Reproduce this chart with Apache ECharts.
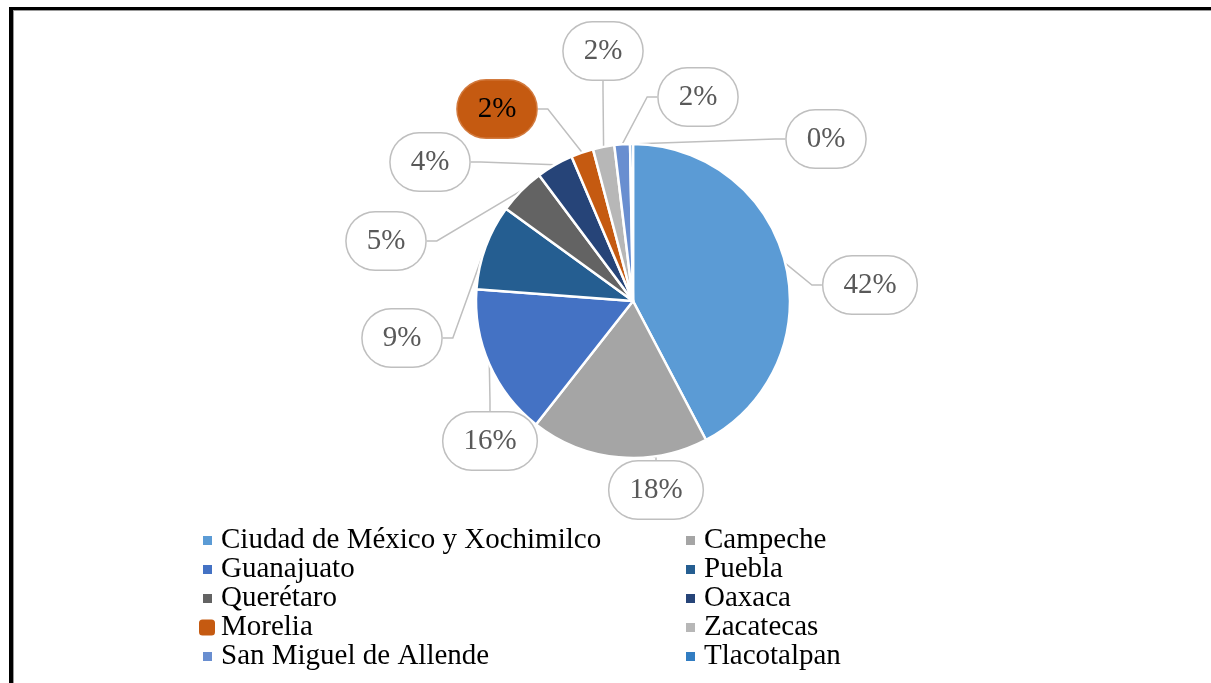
<!DOCTYPE html>
<html>
<head>
<meta charset="utf-8">
<script src="https://cdn.jsdelivr.net/npm/echarts@6/dist/echarts.min.js"></script>
<style>
  html, body { margin: 0; padding: 0; background: #fff; }
  #frame {
    position: absolute; left: 9px; top: 7px; width: 1300px; height: 800px;
    border-left: 4px solid #000; border-top: 3px solid #000;
    box-shadow: inset 1px 1px 0 #999;
  }
  #main { position: absolute; left: 0; top: 0; width: 1211px; height: 683px; }
</style>
</head>
<body>
<div id="frame"></div>
<div id="main"></div>
<script>
// sitios (orden de la gráfica, en sentido horario desde arriba)
var categories = ['Ciudad de México y Xochimilco', 'Campeche', 'Guanajuato', 'Puebla',
  'Querétaro', 'Oaxaca', 'Morelia', 'Zacatecas', 'San Miguel de Allende', 'Tlacotalpan'];
// porcentajes
var values = [42.3, 18.3, 15.6, 8.8, 4.8, 3.8, 2.3, 2.2, 1.6, 0.3];
var colors = ['#5B9BD5', '#A5A5A5', '#4472C4', '#255E91', '#636363',
  '#264478', '#C55A11', '#B7B7B7', '#698ED0', '#327DC2'];

// dónde va cada globo de etiqueta
var labelPos = [[870, 285], [656, 490], [490, 441], [402, 338], [386, 241],
  [430, 162], [497, 109], [603, 51], [698, 97], [826, 139]];

var serif = '"Liberation Serif", "Times New Roman", serif';

var myChart = echarts.init(document.getElementById('main'));

var data = categories.map(function (name, i) {
  var item = { name: name, value: values[i], itemStyle: { color: colors[i] } };
  if (name === 'Morelia') {
    item.label = { backgroundColor: '#C55A11', borderColor: '#D27A3E', color: '#000' };
  }
  return item;
});

function legendBox(names, left, top, size, textPad) {
  return {
    orient: 'vertical',
    left: left,
    top: top,
    padding: 0,
    itemGap: 0,
    itemWidth: size,
    itemHeight: size,
    icon: size > 12 ? 'roundRect' : 'rect',
    selectedMode: false,
    data: names,
    textStyle: { fontFamily: serif, fontSize: 29, color: '#000', padding: [0, 0, 0, textPad] }
  };
}

var option = {
  animation: false,
  color: colors,
  legend: [
    legendBox(['Ciudad de México y Xochimilco', 'Guanajuato', 'Querétaro'], 201, 526, 11, 3),
    legendBox(['Morelia'], 197, 613, 18, 0),
    legendBox(['San Miguel de Allende'], 201, 642, 11, 3),
    legendBox(['Campeche', 'Puebla', 'Oaxaca', 'Zacatecas', 'Tlacotalpan'], 684, 526, 11, 3)
  ],
  series: [{
    type: 'pie',
    center: [633, 301],
    radius: 157,
    startAngle: 90,
    clockwise: true,
    data: data,
    itemStyle: { borderColor: '#fff', borderWidth: 2.5 },
    label: {
      show: true,
      formatter: function (p) { return Math.round(p.percent) + '%'; },
      fontFamily: serif,
      fontSize: 29,
      color: '#595959',
      backgroundColor: '#fff',
      borderColor: '#BFBFBF',
      borderWidth: 1.5,
      borderRadius: 29,
      padding: [14, 20, 14, 20]
    },
    labelLine: {
      show: true,
      length: 10,
      length2: 10,
      lineStyle: { color: '#BFBFBF', width: 1.5 }
    },
    labelLayout: function (params) {
      var p = labelPos[params.dataIndex];
      return { x: p[0], y: p[1], align: 'center', verticalAlign: 'middle' };
    },
    emphasis: { disabled: true }
  }]
};

myChart.setOption(option);
</script>
</body>
</html>
